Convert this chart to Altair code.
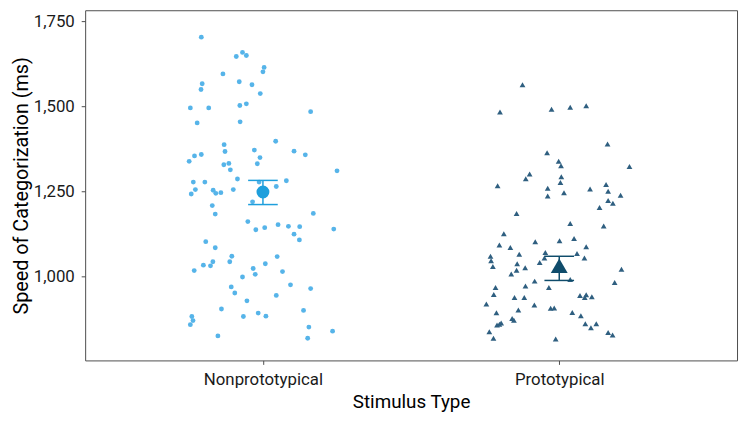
import altair as alt
import pandas as pd

categories = ["Nonprototypical", "Prototypical"]

# Individual participant speeds (ms) and horizontal jitter (category units)
non_ms = [1704, 1659, 1647, 1650, 1615, 1602, 1596, 1573, 1567, 1564, 1550, 1538, 1496, 1496,
          1503, 1508, 1452, 1455, 1388, 1368, 1355, 1359, 1339, 1372, 1350, 1332, 1329, 1333,
          1314, 1287, 1278, 1278, 1278, 1243, 1256, 1254, 1245, 1247, 1256, 1220, 1209, 1184,
          1162, 1138, 1144, 1103, 1085, 1060, 1044, 1044, 1034, 1032, 1018, 1038, 1024, 1007,
          999, 970, 952, 929, 905, 883, 871, 859, 883, 893, 884, 826, 1485, 1398, 1369, 1358,
          1311, 1282, 1265, 1186, 1153, 1148, 1147, 1140, 1125, 1108, 1059, 1015, 976, 965,
          945, 901, 852, 840, 819]
non_jit = [-0.208, -0.069, -0.090, -0.056, 0.004, 0.000, -0.135, -0.080, -0.205, -0.037, -0.209,
           -0.009, -0.245, -0.183, -0.078, -0.056, -0.222, -0.077, -0.131, -0.128, -0.231, -0.208,
           -0.249, -0.029, -0.010, -0.019, -0.132, -0.115, -0.110, -0.086, -0.235, -0.196, -0.013,
           -0.242, -0.228, -0.168, -0.159, -0.142, -0.100, -0.035, -0.171, -0.161, -0.051, -0.024,
           0.006, -0.193, -0.161, -0.105, -0.169, -0.112, -0.201, -0.177, -0.232, 0.008, -0.033,
           -0.026, -0.069, -0.107, -0.095, -0.054, -0.140, -0.240, -0.236, -0.245, -0.066, -0.016,
           0.010, -0.152, 0.161, 0.043, 0.105, 0.143, 0.250, 0.079, 0.045, 0.170, 0.051, 0.086,
           0.124, 0.239, 0.105, 0.123, 0.048, 0.066, 0.093, 0.161, 0.045, 0.137, 0.155, 0.235,
           0.151]

pro_ms = [1564, 1484, 1492, 1364, 1302, 1288, 1267, 1260, 1237, 1498, 1502, 1390, 1339, 1326,
          1324, 1294, 1277, 1247, 1258, 1271, 1251, 1239, 1224, 1216, 1203, 1186, 1126, 1093,
          1086, 1103, 1106, 1066, 1060, 1047, 1071, 1055, 1042, 1038, 1030, 1026, 1019, 1008,
          987, 973, 968, 968, 948, 939, 939, 920, 917, 907, 908, 902, 894, 877, 872, 864, 860,
          858, 838, 819, 817, 1156, 1149, 1112, 1088, 1068, 1055, 992, 1022, 983, 945, 947,
          939, 941, 895, 885, 862, 862, 850, 836, 829]
pro_jit = [-0.124, -0.200, -0.026, -0.041, -0.100, -0.113, -0.208, -0.039, -0.039, 0.037, 0.091,
           0.163, -0.002, 0.006, 0.237, 0.007, 0.004, 0.016, 0.104, 0.158, 0.165, 0.207, 0.165,
           0.181, 0.136, -0.144, -0.187, -0.202, -0.165, -0.081, 0.001, -0.135, -0.232, -0.230,
           -0.047, -0.050, -0.066, -0.142, -0.224, -0.115, -0.144, -0.162, -0.083, -0.114, -0.035,
           -0.215, -0.221, -0.151, -0.118, -0.246, -0.084, -0.029, -0.017, -0.138, -0.212, -0.159,
           -0.153, -0.196, -0.202, -0.210, -0.236, -0.222, -0.012, 0.037, 0.150, 0.050, 0.091,
           0.060, 0.085, 0.037, 0.210, 0.187, 0.070, 0.091, 0.086, 0.110, 0.044, 0.073, 0.088,
           0.125, 0.107, 0.165, 0.180]

# Condition means and error bar limits (ms)
mean_ms = [1249, 1032]
err_low = [1212, 989]
err_high = [1283, 1060]

y_ticks = [1000, 1250, 1500, 1750]

# ---------------------------------------------------------------- styling
FONT = "Roboto, Liberation Sans, sans-serif"
point_colors = {categories[0]: "#56B4E9", categories[1]: "#2F5F80"}
mean_colors = {categories[0]: "#1E9FDC", categories[1]: "#0F4C6B"}
mean_shapes = {categories[0]: "circle", categories[1]: "triangle-up"}
mean_sizes = {categories[0]: 170, categories[1]: 290}
CAP_HALF = 0.05

rows = []
for i, (ms_list, jit_list) in enumerate([(non_ms, non_jit), (pro_ms, pro_jit)]):
    for v, j in zip(ms_list, jit_list):
        rows.append({"cat": categories[i], "x": i + 1 + j, "ms": v})
df_pts = pd.DataFrame(rows)

df_mean = pd.DataFrame({
    "cat": categories,
    "x": [1, 2],
    "mean": mean_ms,
    "lo": err_low,
    "hi": err_high,
})
df_mean["col"] = df_mean["cat"].map(mean_colors)
df_mean["shape"] = df_mean["cat"].map(mean_shapes)
df_mean["sz"] = df_mean["cat"].map(mean_sizes)

label_expr = "['" + "','".join(categories) + "'][datum.value - 1]"

x_scale = alt.Scale(domain=[0.4, 2.6], nice=False, zero=False)
y_scale = alt.Scale(domain=[754, 1783], nice=False, zero=False)
x_axis = alt.Axis(values=[1, 2], labelExpr=label_expr, tickSize=4, labelPadding=7,
                  titlePadding=6, titleFontSize=19, grid=False, domain=False)
y_axis = alt.Axis(values=y_ticks, labelExpr="format(datum.value, ',')", tickSize=4,
                  labelPadding=7, titlePadding=2, titleFontSize=20, grid=False, domain=False)


def X(field):
    return alt.X(field, type="quantitative", scale=x_scale, axis=x_axis, title="Stimulus Type")


def Y(field):
    return alt.Y(field, type="quantitative", scale=y_scale, axis=y_axis,
                 title="Speed of Categorization (ms)")


pts = alt.Chart(df_pts)
non_layer = pts.transform_filter(alt.datum.cat == categories[0]).mark_point(
    filled=True, shape="circle", size=24, opacity=1, color=point_colors[categories[0]]
).encode(x=X("x"), y=Y("ms"))
pro_layer = pts.transform_filter(alt.datum.cat == categories[1]).mark_point(
    filled=True, shape="triangle-up", size=34, opacity=1, color=point_colors[categories[1]]
).encode(x=X("x"), y=Y("ms"))

mean_base = alt.Chart(df_mean).transform_calculate(
    xl=f"datum.x - {CAP_HALF}", xr=f"datum.x + {CAP_HALF}"
)
col = alt.Color("col:N", scale=None)
err_v = mean_base.mark_rule(strokeWidth=1.5).encode(x=X("x"), y=Y("lo"), y2="hi:Q", color=col)
cap_lo = mean_base.mark_rule(strokeWidth=1.5).encode(x=X("xl"), x2="xr:Q", y=Y("lo"), color=col)
cap_hi = mean_base.mark_rule(strokeWidth=1.5).encode(x=X("xl"), x2="xr:Q", y=Y("hi"), color=col)
means = mean_base.mark_point(filled=True, opacity=1).encode(
    x=X("x"), y=Y("mean"), color=col,
    shape=alt.Shape("shape:N", scale=None),
    size=alt.Size("sz:Q", scale=None),
)

chart = alt.layer(non_layer, pro_layer, err_v, cap_lo, cap_hi, means).properties(
    width=659, height=354,
    autosize=alt.AutoSizeParams(type="none"),
    padding={"left": 78, "right": 3, "top": 0, "bottom": 61},
).configure_view(
    stroke="#4D4D4D", strokeWidth=1
).configure_axis(
    labelFont=FONT, titleFont=FONT, labelFontSize=17,
    labelColor="#1A1A1A", titleColor="#000000", tickColor="#4D4D4D",
    titleFontWeight="normal",
)

chart.save("out.html", embed_options={"renderer": "svg", "actions": False})
